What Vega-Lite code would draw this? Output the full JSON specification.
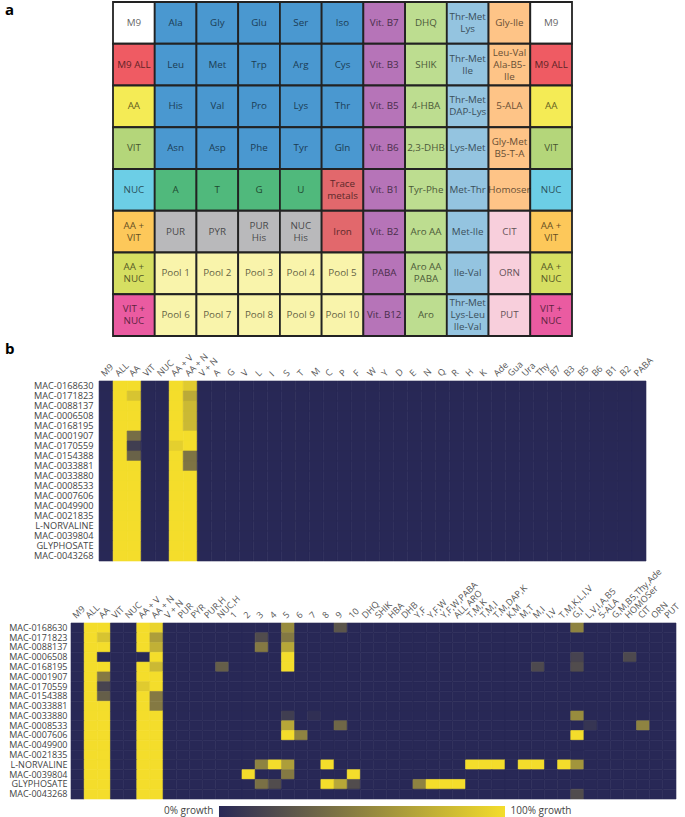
{
  "$schema": "https://vega.github.io/schema/vega-lite/v6.json",
  "background": "white",
  "padding": {"left": 5, "top": 1, "right": 0, "bottom": 0},
  "config": {
    "view": {"stroke": null},
    "font": "Open Sans",
    "axis": {"labelFont": "Open Sans", "titleFont": "Open Sans"},
    "title": {"font": "Open Sans"}
  },
  "resolve": {"scale": {"color": "independent", "stroke": "independent"}},
  "columns": 1,
  "align": "none",
  "center": false,
  "spacing": 4,
  "concat": [
    {
      "title": {"text": "a", "anchor": "start", "frame": "bounds", "fontSize": 15, "fontWeight": "bold", "color": "#000", "offset": -17},
      "width": 501,
      "height": 334,
      "data": {"values": [
        {"r": 1, "c": 1, "t": "M9", "g": "m9"},
        {"r": 1, "c": 2, "t": "Ala", "g": "amino"},
        {"r": 1, "c": 3, "t": "Gly", "g": "amino"},
        {"r": 1, "c": 4, "t": "Glu", "g": "amino"},
        {"r": 1, "c": 5, "t": "Ser", "g": "amino"},
        {"r": 1, "c": 6, "t": "Iso", "g": "amino"},
        {"r": 1, "c": 7, "t": "Vit. B7", "g": "vitamin"},
        {"r": 1, "c": 8, "t": "DHQ", "g": "aro"},
        {"r": 1, "c": 9, "t": "Thr-Met\nLys", "g": "dip"},
        {"r": 1, "c": 10, "t": "Gly-Ile", "g": "comb"},
        {"r": 1, "c": 11, "t": "M9", "g": "m9"},
        {"r": 2, "c": 1, "t": "M9 ALL", "g": "all"},
        {"r": 2, "c": 2, "t": "Leu", "g": "amino"},
        {"r": 2, "c": 3, "t": "Met", "g": "amino"},
        {"r": 2, "c": 4, "t": "Trp", "g": "amino"},
        {"r": 2, "c": 5, "t": "Arg", "g": "amino"},
        {"r": 2, "c": 6, "t": "Cys", "g": "amino"},
        {"r": 2, "c": 7, "t": "Vit. B3", "g": "vitamin"},
        {"r": 2, "c": 8, "t": "SHIK", "g": "aro"},
        {"r": 2, "c": 9, "t": "Thr-Met\nIle", "g": "dip"},
        {"r": 2, "c": 10, "t": "Leu-Val\nAla-B5-\nIle", "g": "comb"},
        {"r": 2, "c": 11, "t": "M9 ALL", "g": "all"},
        {"r": 3, "c": 1, "t": "AA", "g": "aa"},
        {"r": 3, "c": 2, "t": "His", "g": "amino"},
        {"r": 3, "c": 3, "t": "Val", "g": "amino"},
        {"r": 3, "c": 4, "t": "Pro", "g": "amino"},
        {"r": 3, "c": 5, "t": "Lys", "g": "amino"},
        {"r": 3, "c": 6, "t": "Thr", "g": "amino"},
        {"r": 3, "c": 7, "t": "Vit. B5", "g": "vitamin"},
        {"r": 3, "c": 8, "t": "4-HBA", "g": "aro"},
        {"r": 3, "c": 9, "t": "Thr-Met\nDAP-Lys", "g": "dip"},
        {"r": 3, "c": 10, "t": "5-ALA", "g": "comb"},
        {"r": 3, "c": 11, "t": "AA", "g": "aa"},
        {"r": 4, "c": 1, "t": "VIT", "g": "vit"},
        {"r": 4, "c": 2, "t": "Asn", "g": "amino"},
        {"r": 4, "c": 3, "t": "Asp", "g": "amino"},
        {"r": 4, "c": 4, "t": "Phe", "g": "amino"},
        {"r": 4, "c": 5, "t": "Tyr", "g": "amino"},
        {"r": 4, "c": 6, "t": "Gln", "g": "amino"},
        {"r": 4, "c": 7, "t": "Vit. B6", "g": "vitamin"},
        {"r": 4, "c": 8, "t": "2,3-DHB", "g": "aro"},
        {"r": 4, "c": 9, "t": "Lys-Met", "g": "dip"},
        {"r": 4, "c": 10, "t": "Gly-Met\nB5-T-A", "g": "comb"},
        {"r": 4, "c": 11, "t": "VIT", "g": "vit"},
        {"r": 5, "c": 1, "t": "NUC", "g": "nuc"},
        {"r": 5, "c": 2, "t": "A", "g": "nt"},
        {"r": 5, "c": 3, "t": "T", "g": "nt"},
        {"r": 5, "c": 4, "t": "G", "g": "nt"},
        {"r": 5, "c": 5, "t": "U", "g": "nt"},
        {"r": 5, "c": 6, "t": "Trace\nmetals", "g": "metal"},
        {"r": 5, "c": 7, "t": "Vit. B1", "g": "vitamin"},
        {"r": 5, "c": 8, "t": "Tyr-Phe", "g": "aro"},
        {"r": 5, "c": 9, "t": "Met-Thr", "g": "dip"},
        {"r": 5, "c": 10, "t": "Homoser", "g": "comb"},
        {"r": 5, "c": 11, "t": "NUC", "g": "nuc"},
        {"r": 6, "c": 1, "t": "AA +\nVIT", "g": "aavit"},
        {"r": 6, "c": 2, "t": "PUR", "g": "mix"},
        {"r": 6, "c": 3, "t": "PYR", "g": "mix"},
        {"r": 6, "c": 4, "t": "PUR\nHis", "g": "mix"},
        {"r": 6, "c": 5, "t": "NUC\nHis", "g": "mix"},
        {"r": 6, "c": 6, "t": "Iron", "g": "metal"},
        {"r": 6, "c": 7, "t": "Vit. B2", "g": "vitamin"},
        {"r": 6, "c": 8, "t": "Aro AA", "g": "aro"},
        {"r": 6, "c": 9, "t": "Met-Ile", "g": "dip"},
        {"r": 6, "c": 10, "t": "CIT", "g": "pink"},
        {"r": 6, "c": 11, "t": "AA +\nVIT", "g": "aavit"},
        {"r": 7, "c": 1, "t": "AA +\nNUC", "g": "aanuc"},
        {"r": 7, "c": 2, "t": "Pool 1", "g": "pool"},
        {"r": 7, "c": 3, "t": "Pool 2", "g": "pool"},
        {"r": 7, "c": 4, "t": "Pool 3", "g": "pool"},
        {"r": 7, "c": 5, "t": "Pool 4", "g": "pool"},
        {"r": 7, "c": 6, "t": "Pool 5", "g": "pool"},
        {"r": 7, "c": 7, "t": "PABA", "g": "vitamin"},
        {"r": 7, "c": 8, "t": "Aro AA\nPABA", "g": "aro"},
        {"r": 7, "c": 9, "t": "Ile-Val", "g": "dip"},
        {"r": 7, "c": 10, "t": "ORN", "g": "pink"},
        {"r": 7, "c": 11, "t": "AA +\nNUC", "g": "aanuc"},
        {"r": 8, "c": 1, "t": "VIT +\nNUC", "g": "vitnuc"},
        {"r": 8, "c": 2, "t": "Pool 6", "g": "pool"},
        {"r": 8, "c": 3, "t": "Pool 7", "g": "pool"},
        {"r": 8, "c": 4, "t": "Pool 8", "g": "pool"},
        {"r": 8, "c": 5, "t": "Pool 9", "g": "pool"},
        {"r": 8, "c": 6, "t": "Pool 10", "g": "pool"},
        {"r": 8, "c": 7, "t": "Vit. B12", "g": "vitamin"},
        {"r": 8, "c": 8, "t": "Aro", "g": "aro"},
        {"r": 8, "c": 9, "t": "Thr-Met\nLys-Leu\nIle-Val", "g": "dip"},
        {"r": 8, "c": 10, "t": "PUT", "g": "pink"},
        {"r": 8, "c": 11, "t": "VIT +\nNUC", "g": "vitnuc"}
      ]},
      "encoding": {
        "x": {"field": "c", "type": "ordinal", "axis": null, "scale": {"paddingInner": 0, "paddingOuter": 0.50327, "align": 1}},
        "y": {"field": "r", "type": "ordinal", "scale": {"paddingInner": 0, "paddingOuter": 0},
              "axis": {"title": null, "labels": false, "ticks": false, "domain": false, "grid": false, "minExtent": 66, "maxExtent": 66}}
      },
      "layer": [
        {
          "mark": {"type": "rect", "stroke": "#222222", "strokeWidth": 1.8},
          "encoding": {
            "color": {"field": "g", "type": "nominal", "legend": null,
              "scale": {
                "domain": ["m9", "all", "aa", "vit", "nuc", "aavit", "aanuc", "vitnuc", "amino", "nt", "metal", "mix", "pool", "vitamin", "aro", "dip", "comb", "pink"],
                "range": ["#ffffff", "#ef5b63", "#f4eb55", "#b4d67a", "#6ccee6", "#fdc85a", "#d6df62", "#ea5ba1", "#4a98d0", "#50b97c", "#e2686c", "#b9b9bb", "#f9f4ab", "#b674b8", "#bddd90", "#94c4e0", "#fec487", "#f8cfdc"]
              }}
          }
        },
        {
          "transform": [{"filter": "indexof(datum.t, '\\n') < 0"}],
          "mark": {"type": "text", "fontSize": 9.8, "color": "#000000", "opacity": 0.62, "align": "center", "baseline": "middle"},
          "encoding": {"text": {"field": "t"}}
        },
        {
          "transform": [{"filter": "length(split(datum.t, '\\n')) == 2"}],
          "mark": {"type": "text", "fontSize": 9.8, "lineBreak": "\n", "lineHeight": 12, "dy": -6, "color": "#000000", "opacity": 0.62, "align": "center", "baseline": "middle"},
          "encoding": {"text": {"field": "t"}}
        },
        {
          "transform": [{"filter": "length(split(datum.t, '\\n')) == 3"}],
          "mark": {"type": "text", "fontSize": 9.8, "lineBreak": "\n", "lineHeight": 12, "dy": -12, "color": "#000000", "opacity": 0.62, "align": "center", "baseline": "middle"},
          "encoding": {"text": {"field": "t"}}
        }
      ]
    },
    {
      "title": {"text": "b", "anchor": "start", "frame": "bounds", "fontSize": 15, "fontWeight": "bold", "color": "#000", "offset": -5},
      "width": 575,
      "height": 180,
      "data": {"values": [
        {"cpd":"MAC-0168630","M9":0,"ALL":1,"AA":1,"VIT":0,"NUC":0,"AA + V":1,"AA + N":0.9,"V + N":0,"A":0,"G":0,"V":0,"L":0,"I":0,"S":0,"T":0,"M":0,"C":0,"P":0,"F":0,"W":0,"Y":0,"D":0,"E":0,"N":0,"Q":0,"R":0,"H":0,"K":0,"Ade":0,"Gua":0,"Ura":0,"Thy":0,"B7":0,"B3":0,"B5":0,"B6":0,"B1":0,"B2":0,"PABA":0},
        {"cpd":"MAC-0171823","M9":0,"ALL":1,"AA":0.86,"VIT":0,"NUC":0,"AA + V":1,"AA + N":0.72,"V + N":0,"A":0,"G":0,"V":0,"L":0,"I":0,"S":0,"T":0,"M":0,"C":0,"P":0,"F":0,"W":0,"Y":0,"D":0,"E":0,"N":0,"Q":0,"R":0,"H":0,"K":0,"Ade":0,"Gua":0,"Ura":0,"Thy":0,"B7":0,"B3":0,"B5":0,"B6":0,"B1":0,"B2":0,"PABA":0},
        {"cpd":"MAC-0088137","M9":0,"ALL":1,"AA":1,"VIT":0,"NUC":0,"AA + V":1,"AA + N":0.8,"V + N":0,"A":0,"G":0,"V":0,"L":0,"I":0,"S":0,"T":0,"M":0,"C":0,"P":0,"F":0,"W":0,"Y":0,"D":0,"E":0,"N":0,"Q":0,"R":0,"H":0,"K":0,"Ade":0,"Gua":0,"Ura":0,"Thy":0,"B7":0,"B3":0,"B5":0,"B6":0,"B1":0,"B2":0,"PABA":0},
        {"cpd":"MAC-0006508","M9":0,"ALL":1,"AA":1,"VIT":0,"NUC":0,"AA + V":1,"AA + N":0.8,"V + N":0,"A":0,"G":0,"V":0,"L":0,"I":0,"S":0,"T":0,"M":0,"C":0,"P":0,"F":0,"W":0,"Y":0,"D":0,"E":0,"N":0,"Q":0,"R":0,"H":0,"K":0,"Ade":0,"Gua":0,"Ura":0,"Thy":0,"B7":0,"B3":0,"B5":0,"B6":0,"B1":0,"B2":0,"PABA":0},
        {"cpd":"MAC-0168195","M9":0,"ALL":1,"AA":1,"VIT":0,"NUC":0,"AA + V":1,"AA + N":0.8,"V + N":0,"A":0,"G":0,"V":0,"L":0,"I":0,"S":0,"T":0,"M":0,"C":0,"P":0,"F":0,"W":0,"Y":0,"D":0,"E":0,"N":0,"Q":0,"R":0,"H":0,"K":0,"Ade":0,"Gua":0,"Ura":0,"Thy":0,"B7":0,"B3":0,"B5":0,"B6":0,"B1":0,"B2":0,"PABA":0},
        {"cpd":"MAC-0001907","M9":0,"ALL":1,"AA":0.38,"VIT":0,"NUC":0,"AA + V":1,"AA + N":1,"V + N":0,"A":0,"G":0,"V":0,"L":0,"I":0,"S":0,"T":0,"M":0,"C":0,"P":0,"F":0,"W":0,"Y":0,"D":0,"E":0,"N":0,"Q":0,"R":0,"H":0,"K":0,"Ade":0,"Gua":0,"Ura":0,"Thy":0,"B7":0,"B3":0,"B5":0,"B6":0,"B1":0,"B2":0,"PABA":0},
        {"cpd":"MAC-0170559","M9":0,"ALL":1,"AA":0.12,"VIT":0,"NUC":0,"AA + V":0.92,"AA + N":1,"V + N":0,"A":0,"G":0,"V":0,"L":0,"I":0,"S":0,"T":0,"M":0,"C":0,"P":0,"F":0,"W":0,"Y":0,"D":0,"E":0,"N":0,"Q":0,"R":0,"H":0,"K":0,"Ade":0,"Gua":0,"Ura":0,"Thy":0,"B7":0,"B3":0,"B5":0,"B6":0,"B1":0,"B2":0,"PABA":0},
        {"cpd":"MAC-0154388","M9":0,"ALL":1,"AA":0.32,"VIT":0,"NUC":0,"AA + V":1,"AA + N":0.42,"V + N":0,"A":0,"G":0,"V":0,"L":0,"I":0,"S":0,"T":0,"M":0,"C":0,"P":0,"F":0,"W":0,"Y":0,"D":0,"E":0,"N":0,"Q":0,"R":0,"H":0,"K":0,"Ade":0,"Gua":0,"Ura":0,"Thy":0,"B7":0,"B3":0,"B5":0,"B6":0,"B1":0,"B2":0,"PABA":0},
        {"cpd":"MAC-0033881","M9":0,"ALL":1,"AA":1,"VIT":0,"NUC":0,"AA + V":1,"AA + N":0.42,"V + N":0,"A":0,"G":0,"V":0,"L":0,"I":0,"S":0,"T":0,"M":0,"C":0,"P":0,"F":0,"W":0,"Y":0,"D":0,"E":0,"N":0,"Q":0,"R":0,"H":0,"K":0,"Ade":0,"Gua":0,"Ura":0,"Thy":0,"B7":0,"B3":0,"B5":0,"B6":0,"B1":0,"B2":0,"PABA":0},
        {"cpd":"MAC-0033880","M9":0,"ALL":1,"AA":1,"VIT":0,"NUC":0,"AA + V":1,"AA + N":1,"V + N":0,"A":0,"G":0,"V":0,"L":0,"I":0,"S":0,"T":0,"M":0,"C":0,"P":0,"F":0,"W":0,"Y":0,"D":0,"E":0,"N":0,"Q":0,"R":0,"H":0,"K":0,"Ade":0,"Gua":0,"Ura":0,"Thy":0,"B7":0,"B3":0,"B5":0,"B6":0,"B1":0,"B2":0,"PABA":0},
        {"cpd":"MAC-0008533","M9":0,"ALL":1,"AA":1,"VIT":0,"NUC":0,"AA + V":1,"AA + N":1,"V + N":0,"A":0,"G":0,"V":0,"L":0,"I":0,"S":0,"T":0,"M":0,"C":0,"P":0,"F":0,"W":0,"Y":0,"D":0,"E":0,"N":0,"Q":0,"R":0,"H":0,"K":0,"Ade":0,"Gua":0,"Ura":0,"Thy":0,"B7":0,"B3":0,"B5":0,"B6":0,"B1":0,"B2":0,"PABA":0},
        {"cpd":"MAC-0007606","M9":0,"ALL":1,"AA":1,"VIT":0,"NUC":0,"AA + V":1,"AA + N":1,"V + N":0,"A":0,"G":0,"V":0,"L":0,"I":0,"S":0,"T":0,"M":0,"C":0,"P":0,"F":0,"W":0,"Y":0,"D":0,"E":0,"N":0,"Q":0,"R":0,"H":0,"K":0,"Ade":0,"Gua":0,"Ura":0,"Thy":0,"B7":0,"B3":0,"B5":0,"B6":0,"B1":0,"B2":0,"PABA":0},
        {"cpd":"MAC-0049900","M9":0,"ALL":1,"AA":1,"VIT":0,"NUC":0,"AA + V":1,"AA + N":1,"V + N":0,"A":0,"G":0,"V":0,"L":0,"I":0,"S":0,"T":0,"M":0,"C":0,"P":0,"F":0,"W":0,"Y":0,"D":0,"E":0,"N":0,"Q":0,"R":0,"H":0,"K":0,"Ade":0,"Gua":0,"Ura":0,"Thy":0,"B7":0,"B3":0,"B5":0,"B6":0,"B1":0,"B2":0,"PABA":0},
        {"cpd":"MAC-0021835","M9":0,"ALL":1,"AA":1,"VIT":0,"NUC":0,"AA + V":1,"AA + N":1,"V + N":0,"A":0,"G":0,"V":0,"L":0,"I":0,"S":0,"T":0,"M":0,"C":0,"P":0,"F":0,"W":0,"Y":0,"D":0,"E":0,"N":0,"Q":0,"R":0,"H":0,"K":0,"Ade":0,"Gua":0,"Ura":0,"Thy":0,"B7":0,"B3":0,"B5":0,"B6":0,"B1":0,"B2":0,"PABA":0},
        {"cpd":"L-NORVALINE","M9":0,"ALL":1,"AA":1,"VIT":0,"NUC":0,"AA + V":1,"AA + N":1,"V + N":0,"A":0,"G":0,"V":0,"L":0,"I":0,"S":0,"T":0,"M":0,"C":0,"P":0,"F":0,"W":0,"Y":0,"D":0,"E":0,"N":0,"Q":0,"R":0,"H":0,"K":0,"Ade":0,"Gua":0,"Ura":0,"Thy":0,"B7":0,"B3":0,"B5":0,"B6":0,"B1":0,"B2":0,"PABA":0},
        {"cpd":"MAC-0039804","M9":0,"ALL":1,"AA":1,"VIT":0,"NUC":0,"AA + V":1,"AA + N":1,"V + N":0,"A":0,"G":0,"V":0,"L":0,"I":0,"S":0,"T":0,"M":0,"C":0,"P":0,"F":0,"W":0,"Y":0,"D":0,"E":0,"N":0,"Q":0,"R":0,"H":0,"K":0,"Ade":0,"Gua":0,"Ura":0,"Thy":0,"B7":0,"B3":0,"B5":0,"B6":0,"B1":0,"B2":0,"PABA":0},
        {"cpd":"GLYPHOSATE","M9":0,"ALL":1,"AA":1,"VIT":0,"NUC":0,"AA + V":1,"AA + N":1,"V + N":0,"A":0,"G":0,"V":0,"L":0,"I":0,"S":0,"T":0,"M":0,"C":0,"P":0,"F":0,"W":0,"Y":0,"D":0,"E":0,"N":0,"Q":0,"R":0,"H":0,"K":0,"Ade":0,"Gua":0,"Ura":0,"Thy":0,"B7":0,"B3":0,"B5":0,"B6":0,"B1":0,"B2":0,"PABA":0},
        {"cpd":"MAC-0043268","M9":0,"ALL":1,"AA":1,"VIT":0,"NUC":0,"AA + V":1,"AA + N":1,"V + N":0,"A":0,"G":0,"V":0,"L":0,"I":0,"S":0,"T":0,"M":0,"C":0,"P":0,"F":0,"W":0,"Y":0,"D":0,"E":0,"N":0,"Q":0,"R":0,"H":0,"K":0,"Ade":0,"Gua":0,"Ura":0,"Thy":0,"B7":0,"B3":0,"B5":0,"B6":0,"B1":0,"B2":0,"PABA":0}
      ]},
      "transform": [
        {"fold": ["M9","ALL","AA","VIT","NUC","AA + V","AA + N","V + N","A","G","V","L","I","S","T","M","C","P","F","W","Y","D","E","N","Q","R","H","K","Ade","Gua","Ura","Thy","B7","B3","B5","B6","B1","B2","PABA"], "as": ["cond", "growth"]}
      ],
      "mark": {"type": "rect", "strokeWidth": 0.6},
      "encoding": {
        "x": {"field": "cond", "type": "ordinal", "sort": null, "scale": {"paddingInner": 0, "paddingOuter": 1.0734, "align": 1},
              "axis": {"orient": "top", "title": null, "labelAngle": -45, "ticks": false, "domain": false, "labelPadding": 3, "labelFontSize": 9, "labelColor": "#555555"}},
        "y": {"field": "cpd", "type": "ordinal", "sort": null, "scale": {"paddingInner": 0, "paddingOuter": 0},
              "axis": {"title": null, "ticks": false, "domain": false, "offset": -30, "labelPadding": 8, "labelFontSize": 9.2, "labelColor": "#444444", "minExtent": 96, "maxExtent": 96}},
        "color": {"field": "growth", "type": "quantitative", "legend": null, "scale": {"domain": [0, 1], "range": ["#282856", "#f4dd2b"], "interpolate": "rgb"}},
        "stroke": {"field": "growth", "type": "quantitative", "legend": null, "scale": {"domain": [0, 1], "range": ["#282856", "#f4dd2b"], "interpolate": "rgb"}}
      }
    },
    {
      "width": 605,
      "height": 176,
      "data": {"values": [
        {"cpd":"MAC-0168630","M9":0,"ALL":1,"AA":1,"VIT":0,"NUC":0,"AA + V":1,"AA + N":0.95,"V + N":0,"PUR":0,"PYR":0,"PUR,H":0,"NUC,H":0,"1":0,"2":0,"3":0,"4":0,"5":0.55,"6":0,"7":0,"8":0,"9":0.25,"10":0,"DHQ":0,"SHIK":0,"HBA":0,"DHB":0,"Y,F":0,"Y,F,W":0,"Y,F,W,PABA":0,"ALL ARO":0,"T,M,K":0,"T,M,I":0,"T,M,DAP,K":0,"K,M":0,"M,T":0,"M,I":0,"I,V":0,"T,M,K,L,I,V":0,"G,I":0.5,"L,V,I,A,B5":0,"5-ALA":0,"G,M,B5,Thy,Ade":0,"HOMOSer":0,"CIT":0,"ORN":0,"PUT":0},
        {"cpd":"MAC-0171823","M9":0,"ALL":1,"AA":0.86,"VIT":0,"NUC":0,"AA + V":1,"AA + N":0.65,"V + N":0,"PUR":0,"PYR":0,"PUR,H":0,"NUC,H":0,"1":0,"2":0,"3":0.2,"4":0,"5":0.45,"6":0,"7":0,"8":0,"9":0,"10":0,"DHQ":0,"SHIK":0,"HBA":0,"DHB":0,"Y,F":0,"Y,F,W":0,"Y,F,W,PABA":0,"ALL ARO":0,"T,M,K":0,"T,M,I":0,"T,M,DAP,K":0,"K,M":0,"M,T":0,"M,I":0,"I,V":0,"T,M,K,L,I,V":0,"G,I":0,"L,V,I,A,B5":0,"5-ALA":0,"G,M,B5,Thy,Ade":0,"HOMOSer":0,"CIT":0,"ORN":0,"PUT":0},
        {"cpd":"MAC-0088137","M9":0,"ALL":1,"AA":1,"VIT":0,"NUC":0,"AA + V":1,"AA + N":0.75,"V + N":0,"PUR":0,"PYR":0,"PUR,H":0,"NUC,H":0,"1":0,"2":0,"3":0.45,"4":0,"5":0.7,"6":0,"7":0,"8":0,"9":0,"10":0,"DHQ":0,"SHIK":0,"HBA":0,"DHB":0,"Y,F":0,"Y,F,W":0,"Y,F,W,PABA":0,"ALL ARO":0,"T,M,K":0,"T,M,I":0,"T,M,DAP,K":0,"K,M":0,"M,T":0,"M,I":0,"I,V":0,"T,M,K,L,I,V":0,"G,I":0,"L,V,I,A,B5":0,"5-ALA":0,"G,M,B5,Thy,Ade":0,"HOMOSer":0,"CIT":0,"ORN":0,"PUT":0},
        {"cpd":"MAC-0006508","M9":0,"ALL":1,"AA":0,"VIT":0,"NUC":0,"AA + V":0,"AA + N":1,"V + N":0,"PUR":0,"PYR":0,"PUR,H":0,"NUC,H":0,"1":0,"2":0,"3":0,"4":0,"5":1,"6":0,"7":0,"8":0,"9":0,"10":0,"DHQ":0,"SHIK":0,"HBA":0,"DHB":0,"Y,F":0,"Y,F,W":0,"Y,F,W,PABA":0,"ALL ARO":0,"T,M,K":0,"T,M,I":0,"T,M,DAP,K":0,"K,M":0,"M,T":0,"M,I":0,"I,V":0,"T,M,K,L,I,V":0,"G,I":0.15,"L,V,I,A,B5":0,"5-ALA":0,"G,M,B5,Thy,Ade":0,"HOMOSer":0.18,"CIT":0,"ORN":0,"PUT":0},
        {"cpd":"MAC-0168195","M9":0,"ALL":1,"AA":1,"VIT":0,"NUC":0,"AA + V":1,"AA + N":0.8,"V + N":0,"PUR":0,"PYR":0,"PUR,H":0,"NUC,H":0.3,"1":0,"2":0,"3":0,"4":0,"5":1,"6":0,"7":0,"8":0,"9":0,"10":0,"DHQ":0,"SHIK":0,"HBA":0,"DHB":0,"Y,F":0,"Y,F,W":0,"Y,F,W,PABA":0,"ALL ARO":0,"T,M,K":0,"T,M,I":0,"T,M,DAP,K":0,"K,M":0,"M,T":0,"M,I":0.18,"I,V":0,"T,M,K,L,I,V":0,"G,I":0.2,"L,V,I,A,B5":0,"5-ALA":0,"G,M,B5,Thy,Ade":0,"HOMOSer":0,"CIT":0,"ORN":0,"PUT":0},
        {"cpd":"MAC-0001907","M9":0,"ALL":1,"AA":0.45,"VIT":0,"NUC":0,"AA + V":1,"AA + N":1,"V + N":0,"PUR":0,"PYR":0,"PUR,H":0,"NUC,H":0,"1":0,"2":0,"3":0,"4":0,"5":0,"6":0,"7":0,"8":0,"9":0,"10":0,"DHQ":0,"SHIK":0,"HBA":0,"DHB":0,"Y,F":0,"Y,F,W":0,"Y,F,W,PABA":0,"ALL ARO":0,"T,M,K":0,"T,M,I":0,"T,M,DAP,K":0,"K,M":0,"M,T":0,"M,I":0,"I,V":0,"T,M,K,L,I,V":0,"G,I":0,"L,V,I,A,B5":0,"5-ALA":0,"G,M,B5,Thy,Ade":0,"HOMOSer":0,"CIT":0,"ORN":0,"PUT":0},
        {"cpd":"MAC-0170559","M9":0,"ALL":1,"AA":0.15,"VIT":0,"NUC":0,"AA + V":0.9,"AA + N":1,"V + N":0,"PUR":0,"PYR":0,"PUR,H":0,"NUC,H":0,"1":0,"2":0,"3":0,"4":0,"5":0,"6":0,"7":0,"8":0,"9":0,"10":0,"DHQ":0,"SHIK":0,"HBA":0,"DHB":0,"Y,F":0,"Y,F,W":0,"Y,F,W,PABA":0,"ALL ARO":0,"T,M,K":0,"T,M,I":0,"T,M,DAP,K":0,"K,M":0,"M,T":0,"M,I":0,"I,V":0,"T,M,K,L,I,V":0,"G,I":0,"L,V,I,A,B5":0,"5-ALA":0,"G,M,B5,Thy,Ade":0,"HOMOSer":0,"CIT":0,"ORN":0,"PUT":0},
        {"cpd":"MAC-0154388","M9":0,"ALL":1,"AA":0.3,"VIT":0,"NUC":0,"AA + V":1,"AA + N":0.45,"V + N":0,"PUR":0,"PYR":0,"PUR,H":0,"NUC,H":0,"1":0,"2":0,"3":0,"4":0,"5":0,"6":0,"7":0,"8":0,"9":0,"10":0,"DHQ":0,"SHIK":0,"HBA":0,"DHB":0,"Y,F":0,"Y,F,W":0,"Y,F,W,PABA":0,"ALL ARO":0,"T,M,K":0,"T,M,I":0,"T,M,DAP,K":0,"K,M":0,"M,T":0,"M,I":0,"I,V":0,"T,M,K,L,I,V":0,"G,I":0,"L,V,I,A,B5":0,"5-ALA":0,"G,M,B5,Thy,Ade":0,"HOMOSer":0,"CIT":0,"ORN":0,"PUT":0},
        {"cpd":"MAC-0033881","M9":0,"ALL":1,"AA":1,"VIT":0,"NUC":0,"AA + V":1,"AA + N":0.45,"V + N":0,"PUR":0,"PYR":0,"PUR,H":0,"NUC,H":0,"1":0,"2":0,"3":0,"4":0,"5":0,"6":0,"7":0,"8":0,"9":0,"10":0,"DHQ":0,"SHIK":0,"HBA":0,"DHB":0,"Y,F":0,"Y,F,W":0,"Y,F,W,PABA":0,"ALL ARO":0,"T,M,K":0,"T,M,I":0,"T,M,DAP,K":0,"K,M":0,"M,T":0,"M,I":0,"I,V":0,"T,M,K,L,I,V":0,"G,I":0,"L,V,I,A,B5":0,"5-ALA":0,"G,M,B5,Thy,Ade":0,"HOMOSer":0,"CIT":0,"ORN":0,"PUT":0},
        {"cpd":"MAC-0033880","M9":0,"ALL":1,"AA":1,"VIT":0,"NUC":0,"AA + V":1,"AA + N":1,"V + N":0,"PUR":0,"PYR":0,"PUR,H":0,"NUC,H":0,"1":0,"2":0,"3":0,"4":0,"5":0.12,"6":0,"7":0.04,"8":0,"9":0,"10":0,"DHQ":0,"SHIK":0,"HBA":0,"DHB":0,"Y,F":0,"Y,F,W":0,"Y,F,W,PABA":0,"ALL ARO":0,"T,M,K":0,"T,M,I":0,"T,M,DAP,K":0,"K,M":0,"M,T":0,"M,I":0,"I,V":0,"T,M,K,L,I,V":0,"G,I":0.55,"L,V,I,A,B5":0,"5-ALA":0,"G,M,B5,Thy,Ade":0,"HOMOSer":0,"CIT":0,"ORN":0,"PUT":0},
        {"cpd":"MAC-0008533","M9":0,"ALL":1,"AA":1,"VIT":0,"NUC":0,"AA + V":1,"AA + N":1,"V + N":0,"PUR":0,"PYR":0,"PUR,H":0,"NUC,H":0,"1":0,"2":0,"3":0,"4":0,"5":0.7,"6":0,"7":0,"8":0,"9":0.35,"10":0,"DHQ":0,"SHIK":0,"HBA":0,"DHB":0,"Y,F":0,"Y,F,W":0,"Y,F,W,PABA":0,"ALL ARO":0,"T,M,K":0,"T,M,I":0,"T,M,DAP,K":0,"K,M":0,"M,T":0,"M,I":0,"I,V":0,"T,M,K,L,I,V":0,"G,I":0,"L,V,I,A,B5":0.07,"5-ALA":0,"G,M,B5,Thy,Ade":0,"HOMOSer":0,"CIT":0.5,"ORN":0,"PUT":0},
        {"cpd":"MAC-0007606","M9":0,"ALL":1,"AA":1,"VIT":0,"NUC":0,"AA + V":1,"AA + N":1,"V + N":0,"PUR":0,"PYR":0,"PUR,H":0,"NUC,H":0,"1":0,"2":0,"3":0,"4":0,"5":1,"6":0.5,"7":0,"8":0,"9":0,"10":0,"DHQ":0,"SHIK":0,"HBA":0,"DHB":0,"Y,F":0,"Y,F,W":0,"Y,F,W,PABA":0,"ALL ARO":0,"T,M,K":0,"T,M,I":0,"T,M,DAP,K":0,"K,M":0,"M,T":0,"M,I":0,"I,V":0,"T,M,K,L,I,V":0,"G,I":1,"L,V,I,A,B5":0,"5-ALA":0,"G,M,B5,Thy,Ade":0,"HOMOSer":0,"CIT":0,"ORN":0,"PUT":0},
        {"cpd":"MAC-0049900","M9":0,"ALL":1,"AA":1,"VIT":0,"NUC":0,"AA + V":1,"AA + N":1,"V + N":0,"PUR":0,"PYR":0,"PUR,H":0,"NUC,H":0,"1":0,"2":0,"3":0,"4":0,"5":0,"6":0,"7":0,"8":0,"9":0,"10":0,"DHQ":0,"SHIK":0,"HBA":0,"DHB":0,"Y,F":0,"Y,F,W":0,"Y,F,W,PABA":0,"ALL ARO":0,"T,M,K":0,"T,M,I":0,"T,M,DAP,K":0,"K,M":0,"M,T":0,"M,I":0,"I,V":0,"T,M,K,L,I,V":0,"G,I":0,"L,V,I,A,B5":0,"5-ALA":0,"G,M,B5,Thy,Ade":0,"HOMOSer":0,"CIT":0,"ORN":0,"PUT":0},
        {"cpd":"MAC-0021835","M9":0,"ALL":1,"AA":1,"VIT":0,"NUC":0,"AA + V":1,"AA + N":1,"V + N":0,"PUR":0,"PYR":0,"PUR,H":0,"NUC,H":0,"1":0,"2":0,"3":0,"4":0,"5":0,"6":0,"7":0,"8":0,"9":0,"10":0,"DHQ":0,"SHIK":0,"HBA":0,"DHB":0,"Y,F":0,"Y,F,W":0,"Y,F,W,PABA":0,"ALL ARO":0,"T,M,K":0,"T,M,I":0,"T,M,DAP,K":0,"K,M":0,"M,T":0,"M,I":0,"I,V":0,"T,M,K,L,I,V":0,"G,I":0,"L,V,I,A,B5":0,"5-ALA":0,"G,M,B5,Thy,Ade":0,"HOMOSer":0,"CIT":0,"ORN":0,"PUT":0},
        {"cpd":"L-NORVALINE","M9":0,"ALL":1,"AA":1,"VIT":0,"NUC":0,"AA + V":1,"AA + N":1,"V + N":0,"PUR":0,"PYR":0,"PUR,H":0,"NUC,H":0,"1":0,"2":0,"3":0.5,"4":1,"5":0.65,"6":0,"7":0,"8":1,"9":0,"10":0,"DHQ":0,"SHIK":0,"HBA":0,"DHB":0,"Y,F":0,"Y,F,W":0,"Y,F,W,PABA":0,"ALL ARO":0,"T,M,K":1,"T,M,I":1,"T,M,DAP,K":1,"K,M":0,"M,T":1,"M,I":1,"I,V":0,"T,M,K,L,I,V":1,"G,I":0.6,"L,V,I,A,B5":0,"5-ALA":0,"G,M,B5,Thy,Ade":0,"HOMOSer":0,"CIT":0,"ORN":0,"PUT":0},
        {"cpd":"MAC-0039804","M9":0,"ALL":1,"AA":1,"VIT":0,"NUC":0,"AA + V":1,"AA + N":1,"V + N":0,"PUR":0,"PYR":0,"PUR,H":0,"NUC,H":0,"1":0,"2":1,"3":0,"4":0,"5":0.45,"6":0,"7":0,"8":0,"9":0,"10":1,"DHQ":0,"SHIK":0,"HBA":0,"DHB":0,"Y,F":0,"Y,F,W":0,"Y,F,W,PABA":0,"ALL ARO":0,"T,M,K":0,"T,M,I":0,"T,M,DAP,K":0,"K,M":0,"M,T":0,"M,I":0,"I,V":0,"T,M,K,L,I,V":0,"G,I":0,"L,V,I,A,B5":0,"5-ALA":0,"G,M,B5,Thy,Ade":0,"HOMOSer":0,"CIT":0,"ORN":0,"PUT":0},
        {"cpd":"GLYPHOSATE","M9":0,"ALL":1,"AA":1,"VIT":0,"NUC":0,"AA + V":1,"AA + N":1,"V + N":0,"PUR":0,"PYR":0,"PUR,H":0,"NUC,H":0,"1":0,"2":0,"3":0.4,"4":0.2,"5":0,"6":0,"7":0,"8":1,"9":0.7,"10":0.2,"DHQ":0,"SHIK":0,"HBA":0,"DHB":0,"Y,F":0.5,"Y,F,W":1,"Y,F,W,PABA":1,"ALL ARO":1,"T,M,K":0,"T,M,I":0,"T,M,DAP,K":0,"K,M":0,"M,T":0,"M,I":0,"I,V":0,"T,M,K,L,I,V":0,"G,I":0,"L,V,I,A,B5":0,"5-ALA":0,"G,M,B5,Thy,Ade":0,"HOMOSer":0,"CIT":0,"ORN":0,"PUT":0},
        {"cpd":"MAC-0043268","M9":0,"ALL":1,"AA":1,"VIT":0,"NUC":0,"AA + V":1,"AA + N":1,"V + N":0,"PUR":0,"PYR":0,"PUR,H":0,"NUC,H":0,"1":0,"2":0,"3":0,"4":0,"5":0,"6":0,"7":0,"8":0,"9":0,"10":0,"DHQ":0,"SHIK":0,"HBA":0,"DHB":0,"Y,F":0,"Y,F,W":0,"Y,F,W,PABA":0,"ALL ARO":0,"T,M,K":0,"T,M,I":0,"T,M,DAP,K":0,"K,M":0,"M,T":0,"M,I":0,"I,V":0,"T,M,K,L,I,V":0,"G,I":0.2,"L,V,I,A,B5":0,"5-ALA":0,"G,M,B5,Thy,Ade":0,"HOMOSer":0,"CIT":0,"ORN":0,"PUT":0}
      ]},
      "transform": [
        {"fold": ["M9","ALL","AA","VIT","NUC","AA + V","AA + N","V + N","PUR","PYR","PUR,H","NUC,H","1","2","3","4","5","6","7","8","9","10","DHQ","SHIK","HBA","DHB","Y,F","Y,F,W","Y,F,W,PABA","ALL ARO","T,M,K","T,M,I","T,M,DAP,K","K,M","M,T","M,I","I,V","T,M,K,L,I,V","G,I","L,V,I,A,B5","5-ALA","G,M,B5,Thy,Ade","HOMOSer","CIT","ORN","PUT"], "as": ["cond", "growth"]}
      ],
      "mark": {"type": "rect", "strokeWidth": 0.6},
      "encoding": {
        "x": {"field": "cond", "type": "ordinal", "sort": null, "scale": {"paddingInner": 0, "paddingOuter": 0},
              "axis": {"orient": "top", "title": null, "labelAngle": -45, "ticks": false, "domain": false, "labelPadding": 3, "labelFontSize": 9, "labelColor": "#555555"}},
        "y": {"field": "cpd", "type": "ordinal", "sort": null, "scale": {"paddingInner": 0, "paddingOuter": 0},
              "axis": {"title": null, "ticks": false, "domain": false, "labelPadding": 4, "labelFontSize": 9, "labelColor": "#444444", "minExtent": 66, "maxExtent": 66}},
        "color": {"field": "growth", "type": "quantitative", "legend": null, "scale": {"domain": [0, 1], "range": ["#282856", "#f4dd2b"], "interpolate": "rgb"}},
        "stroke": {"field": "growth", "type": "quantitative", "legend": null, "scale": {"domain": [0, 1], "range": ["#282856", "#f4dd2b"], "interpolate": "rgb"}}
      }
    },
    {
      "width": 434,
      "height": 13,
      "data": {"values": [{"lo": "0% growth", "hi": "100% growth", "key": "growth"}]},
      "encoding": {
        "x": {"field": "key", "type": "nominal", "scale": {"paddingInner": 0, "paddingOuter": 0.2587, "align": 1}, "axis": null}
      },
      "layer": [
        {
          "mark": {"type": "rect", "color": {"gradient": "linear", "x1": 0, "x2": 1, "y1": 0, "y2": 0, "stops": [{"offset": 0, "color": "#282856"}, {"offset": 1, "color": "#f4dd2b"}]}},
          "encoding": {
            "y": {"field": "lo", "type": "nominal", "scale": {"paddingInner": 0, "paddingOuter": 0.0909, "align": 1},
                  "axis": {"title": null, "ticks": false, "domain": false, "offset": -148, "labelPadding": 6, "labelFontSize": 10, "labelColor": "#444444", "minExtent": 66, "maxExtent": 66}}
          }
        },
        {
          "mark": {"type": "rect", "opacity": 0},
          "encoding": {
            "y": {"field": "hi", "type": "nominal", "scale": {"paddingInner": 0, "paddingOuter": 0.0909, "align": 1},
                  "axis": {"orient": "right", "title": null, "ticks": false, "domain": false, "labelPadding": 5, "labelFontSize": 10, "labelColor": "#444444"}}
          }
        }
      ],
      "resolve": {"scale": {"y": "independent"}, "axis": {"y": "independent"}}
    }
  ]
}
